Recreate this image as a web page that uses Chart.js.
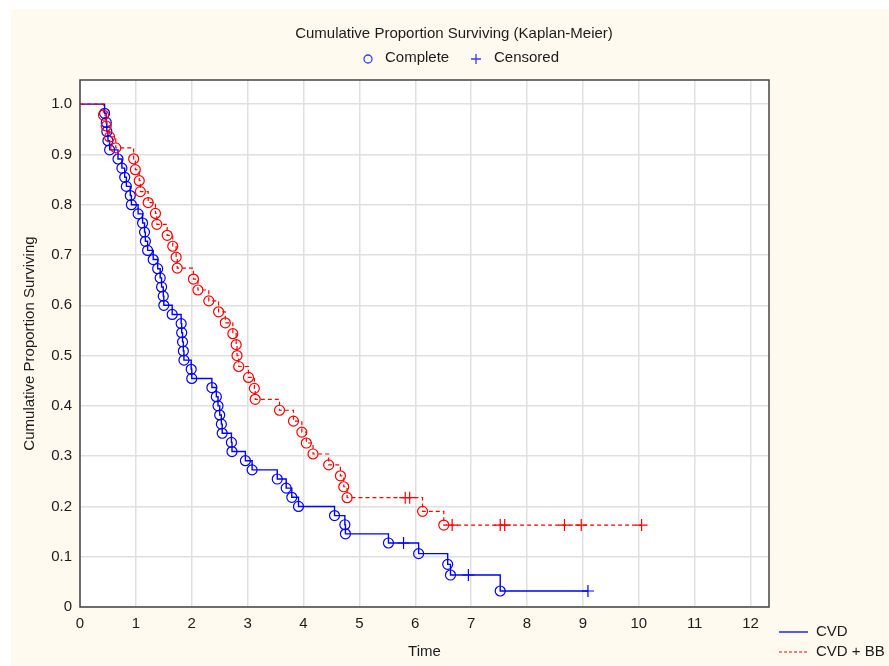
<!DOCTYPE html>
<html>
<head>
<meta charset="utf-8">
<title>Kaplan-Meier</title>
<script src="https://cdn.jsdelivr.net/npm/chart.js@4.4.1/dist/chart.umd.min.js"></script>
<style>
  html, body { margin: 0; padding: 0; background: #fff; }
  canvas { display: block; }
</style>
</head>
<body>
<canvas id="km" width="889" height="666"></canvas>
<script>
// CVD: event times (complete) and survival after each event
const cvdTimes = [0.44, 0.47, 0.48, 0.50, 0.53, 0.68, 0.75, 0.80, 0.83, 0.90, 0.92,
  1.04, 1.12, 1.155, 1.17, 1.21, 1.31, 1.39, 1.435, 1.46, 1.49, 1.50, 1.65,
  1.81, 1.82, 1.835, 1.85, 1.86, 1.99, 2.00, 2.36, 2.44, 2.47, 2.50, 2.53, 2.545,
  2.71, 2.72, 2.96, 3.08, 3.53, 3.69, 3.79, 3.91, 4.555, 4.74, 4.75, 5.52,
  6.06, 6.58, 6.63, 7.52];
const cvdSurv = [0.9818, 0.9636, 0.9455, 0.9273, 0.9091, 0.8909, 0.8727, 0.8545, 0.8364, 0.8182, 0.8000,
  0.7818, 0.7636, 0.7455, 0.7273, 0.7091, 0.6909, 0.6727, 0.6545, 0.6364, 0.6182, 0.6000, 0.5818,
  0.5636, 0.5455, 0.5273, 0.5091, 0.4909, 0.4727, 0.4545, 0.4364, 0.4182, 0.4000, 0.3818, 0.3636, 0.3455,
  0.3273, 0.3091, 0.2909, 0.2727, 0.2545, 0.2364, 0.2182, 0.2000, 0.1818, 0.1636, 0.1455, 0.1273,
  0.1061, 0.0848, 0.0636, 0.0318];
const cvdCensTimes = [5.79, 6.95, 9.09];
const cvdCensSurv = [0.1273, 0.0636, 0.0318];

// CVD + BB
const bbTimes = [0.42, 0.47, 0.53, 0.64, 0.96, 0.99, 1.06, 1.08, 1.22, 1.35, 1.375,
  1.56, 1.66, 1.72, 1.74, 2.03, 2.11, 2.305, 2.48, 2.60, 2.735, 2.795, 2.81, 2.84,
  3.015, 3.12, 3.135, 3.57, 3.82, 3.97, 4.05, 4.17, 4.45, 4.66, 4.72, 4.78, 6.13, 6.51];
const bbSurv = [0.9783, 0.9565, 0.9348, 0.9130, 0.8913, 0.8696, 0.8478, 0.8261, 0.8043, 0.7826, 0.7609,
  0.7391, 0.7174, 0.6957, 0.6739, 0.6522, 0.6304, 0.6087, 0.5870, 0.5652, 0.5435, 0.5217, 0.5000, 0.4783,
  0.4565, 0.4348, 0.4130, 0.3913, 0.3696, 0.3478, 0.3261, 0.3043, 0.2826, 0.2609, 0.2391, 0.2174, 0.1902, 0.1630];
const bbCensTimes = [5.82, 5.90, 6.66, 7.52, 7.60, 8.67, 8.97, 10.05];
const bbCensSurv = [0.2174, 0.2174, 0.1630, 0.1630, 0.1630, 0.1630, 0.1630, 0.1630];

const FONT = "'Liberation Sans', Arial, sans-serif";
const TXT = "#1c1c1c";
const BLUE = "rgb(0,0,255)";
const RED = "rgb(255,0,0)";

function pairs(xs, ys) {
  return xs.map((x, i) => ({ x: x, y: ys[i] }));
}

// step curve from t=0, extended to the last censored time
function curve(times, surv, censTimes) {
  const pts = [{ x: 0, y: 1 }].concat(pairs(times, surv));
  const last = censTimes[censTimes.length - 1];
  if (last > times[times.length - 1]) {
    pts.push({ x: last, y: surv[surv.length - 1] });
  }
  return pts;
}

const decor = {
  id: "decor",
  beforeDraw(chart) {
    const { ctx, chartArea: a } = chart;
    ctx.save();
    ctx.fillStyle = "#ffffff";
    ctx.fillRect(0, 0, chart.width, chart.height);
    ctx.fillStyle = "#fffaf0";
    ctx.fillRect(11, 9, chart.width - 11, chart.height - 9);
    ctx.fillStyle = "#ffffff";
    ctx.fillRect(a.left, a.top, a.right - a.left, a.bottom - a.top);
    ctx.restore();
  },
  afterDraw(chart) {
    const { ctx, chartArea: a } = chart;
    ctx.save();
    ctx.strokeStyle = "#444";
    ctx.lineWidth = 1.5;
    ctx.strokeRect(a.left, a.top, a.right - a.left, a.bottom - a.top);

    ctx.fillStyle = TXT;
    ctx.font = "15px " + FONT;
    ctx.textBaseline = "alphabetic";
    ctx.textAlign = "center";
    ctx.fillText("Cumulative Proportion Surviving (Kaplan-Meier)", 454, 38);
    ctx.textAlign = "left";
    ctx.fillText("Complete", 385, 62);
    ctx.fillText("Censored", 494, 62);

    // legend marks
    ctx.strokeStyle = "#3a3aff";
    ctx.lineWidth = 1.3;
    ctx.beginPath();
    ctx.arc(368, 59, 4, 0, Math.PI * 2);
    ctx.stroke();
    ctx.beginPath();
    ctx.moveTo(471, 59); ctx.lineTo(481, 59);
    ctx.moveTo(476, 54); ctx.lineTo(476, 64);
    ctx.stroke();

    // bottom-right legend
    ctx.strokeStyle = BLUE;
    ctx.lineWidth = 1.3;
    ctx.beginPath();
    ctx.moveTo(779, 632); ctx.lineTo(808, 632);
    ctx.stroke();
    ctx.strokeStyle = RED;
    ctx.setLineDash([3, 2]);
    ctx.lineWidth = 1;
    ctx.beginPath();
    ctx.moveTo(779, 652); ctx.lineTo(808, 652);
    ctx.stroke();
    ctx.setLineDash([]);
    ctx.fillText("CVD", 816, 636);
    ctx.fillText("CVD + BB", 816, 656);
    ctx.restore();
  },
};

new Chart(document.getElementById("km"), {
  type: "scatter",
  data: {
    datasets: [
      {
        label: "CVD + BB",
        data: curve(bbTimes, bbSurv, bbCensTimes),
        showLine: true,
        stepped: true,
        borderColor: RED,
        borderWidth: 1.2,
        borderDash: [4, 3],
        pointRadius: 0,
      },
      {
        label: "CVD + BB complete",
        data: pairs(bbTimes, bbSurv),
        showLine: false,
        pointStyle: "circle",
        pointRadius: 5,
        pointBorderWidth: 1.2,
        borderColor: RED,
        backgroundColor: "rgba(0,0,0,0)",
      },
      {
        label: "CVD + BB censored",
        data: pairs(bbCensTimes, bbCensSurv),
        showLine: false,
        pointStyle: "cross",
        pointRadius: 6,
        pointBorderWidth: 1.2,
        borderColor: RED,
      },
      {
        label: "CVD",
        data: curve(cvdTimes, cvdSurv, cvdCensTimes),
        showLine: true,
        stepped: true,
        borderColor: BLUE,
        borderWidth: 1.4,
        pointRadius: 0,
      },
      {
        label: "CVD complete",
        data: pairs(cvdTimes, cvdSurv),
        showLine: false,
        pointStyle: "circle",
        pointRadius: 5,
        pointBorderWidth: 1.2,
        borderColor: BLUE,
        backgroundColor: "rgba(0,0,0,0)",
      },
      {
        label: "CVD censored",
        data: pairs(cvdCensTimes, cvdCensSurv),
        showLine: false,
        pointStyle: "cross",
        pointRadius: 6,
        pointBorderWidth: 1.2,
        borderColor: BLUE,
      },
    ],
  },
  options: {
    responsive: false,
    animation: false,
    layout: { padding: { left: 0, top: 80, right: 120, bottom: 0 } },
    plugins: {
      legend: { display: false },
      title: { display: false },
      tooltip: { enabled: false },
    },
    scales: {
      x: {
        type: "linear",
        min: 0,
        max: 12.33,
        afterFit: (s) => { s.height = 59; },
        ticks: {
          stepSize: 1,
          includeBounds: false,
          padding: 8,
          color: TXT,
          font: { family: FONT, size: 15 },
        },
        grid: { color: "#e0e0e0", lineWidth: 1.5, drawTicks: false },
        border: { display: false },
        title: {
          display: true,
          text: "Time",
          color: TXT,
          font: { family: FONT, size: 15 },
          padding: { top: 0, bottom: 5 },
        },
      },
      y: {
        min: 0,
        max: 1.048,
        afterFit: (s) => { s.width = 80; },
        ticks: {
          stepSize: 0.1,
          includeBounds: false,
          padding: 8,
          color: TXT,
          font: { family: FONT, size: 15 },
          callback: (v) => (v === 0 ? "0" : v.toFixed(1)),
        },
        grid: { color: "#e0e0e0", lineWidth: 1.5, drawTicks: false },
        border: { display: false },
        title: {
          display: true,
          text: "Cumulative Proportion Surviving",
          color: TXT,
          font: { family: FONT, size: 15 },
          padding: { top: 21, bottom: 0 },
        },
      },
    },
  },
  plugins: [decor],
});
</script>
</body>
</html>
